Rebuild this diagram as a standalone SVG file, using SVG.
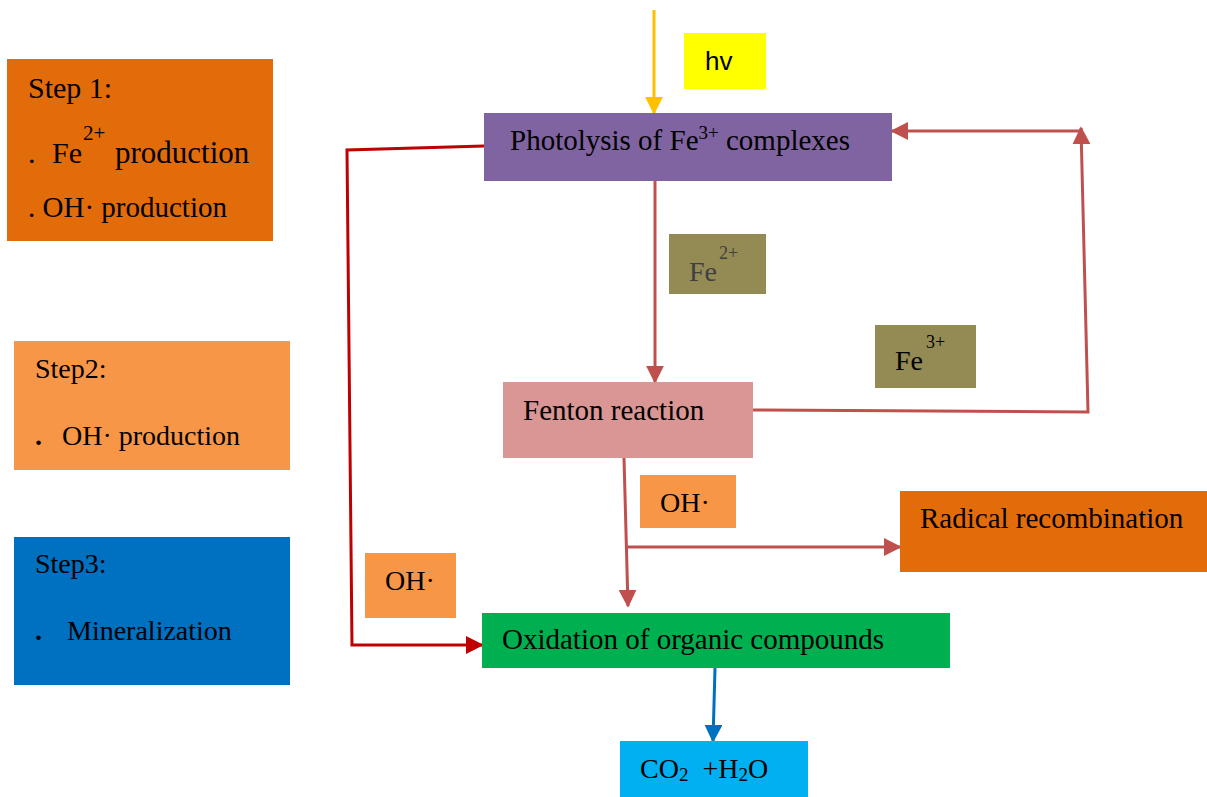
<svg xmlns="http://www.w3.org/2000/svg" width="1207" height="797" viewBox="0 0 1207 797">
<style>
text{font-family:"Liberation Serif","Times New Roman",serif;fill:#000;}
.t29{font-size:29px;}
.t28{font-size:28px;}
.b{font-weight:bold;}
.red{stroke:#C0504D;stroke-width:3;fill:none;}
.dred{stroke:#C00000;stroke-width:3;fill:none;}
</style>
<defs>
<marker id="ar" viewBox="0 0 10 10" refX="9" refY="5" markerWidth="6" markerHeight="6" orient="auto" markerUnits="strokeWidth"><path d="M0,0 L10,5 L0,10 z" fill="#C0504D"/></marker>
<marker id="ad" viewBox="0 0 10 10" refX="9" refY="5" markerWidth="6" markerHeight="6" orient="auto" markerUnits="strokeWidth"><path d="M0,0 L10,5 L0,10 z" fill="#C00000"/></marker>
<marker id="ay" viewBox="0 0 10 10" refX="9" refY="5" markerWidth="6" markerHeight="6" orient="auto" markerUnits="strokeWidth"><path d="M0,0 L10,5 L0,10 z" fill="#FFC000"/></marker>
<marker id="ab" viewBox="0 0 10 10" refX="9" refY="5" markerWidth="6" markerHeight="6" orient="auto" markerUnits="strokeWidth"><path d="M0,0 L10,5 L0,10 z" fill="#0070C0"/></marker>
</defs>
<rect width="1207" height="797" fill="#fff"/>

<g id="connectors">
<line x1="654" y1="10" x2="654" y2="113" stroke="#FFC000" stroke-width="3" marker-end="url(#ay)"/>
<line class="red" x1="655" y1="181" x2="655" y2="382" marker-end="url(#ar)"/>
<polyline class="red" points="753,410 1088,412 1081,128" marker-end="url(#ar)"/>
<line class="red" x1="1081" y1="131" x2="892" y2="131" marker-end="url(#ar)"/>
<line class="red" x1="624" y1="458" x2="628" y2="606" marker-end="url(#ar)"/>
<line class="red" x1="626" y1="547" x2="900" y2="547" marker-end="url(#ar)"/>
<polyline class="dred" points="484,146 347,150 352,645 482,645" marker-end="url(#ad)"/>
<line x1="715" y1="668" x2="713" y2="741" stroke="#0070C0" stroke-width="3" marker-end="url(#ab)"/>
</g>

<g id="step1">
<rect x="7" y="59" width="266" height="182" fill="#E36C0A"/>
<text x="28" y="98" style="font-size:30px">Step 1:</text>
<text x="28" y="163" style="font-size:30px">.<tspan x="52">Fe</tspan><tspan x="83" y="140" style="font-size:21px">2+</tspan><tspan x="115" y="163" style="font-size:31px">production</tspan></text>
<text class="t29" x="28" y="217">. OH· production</text>
</g>

<g id="step2">
<rect x="14" y="341" width="276" height="129" fill="#F79646"/>
<text class="t28" x="35" y="378">Step2:</text>
<text class="t28" x="35" y="445"><tspan class="b">.</tspan><tspan x="62">OH· production</tspan></text>
</g>

<g id="step3">
<rect x="14" y="537" width="276" height="148" fill="#0070C0"/>
<text class="t28" x="35" y="573">Step3:</text>
<text class="t28" x="35" y="640"><tspan class="b">.</tspan><tspan x="67">Mineralization</tspan></text>
</g>

<g id="hv">
<rect x="684" y="33" width="82" height="56" fill="#FFFF00"/>
<text x="705" y="70" style="font-family:'Liberation Sans',Arial,sans-serif;font-size:26px">hv</text>
</g>

<g id="photolysis">
<rect x="484" y="113" width="408" height="68" fill="#8064A2"/>
<text class="t29" x="510" y="150">Photolysis of Fe<tspan style="font-size:19px" dy="-11">3+</tspan><tspan dy="11"> complexes</tspan></text>
</g>

<g id="fe2">
<rect x="669" y="234" width="97" height="60" fill="#948A54"/>
<text x="689" y="281" style="font-size:28px;fill:#404040">Fe<tspan x="719" y="259" style="font-size:18px;fill:#404040">2+</tspan></text>
</g>

<g id="fe3">
<rect x="875" y="325" width="101" height="63" fill="#948A54"/>
<text x="895" y="370" style="font-size:28px">Fe<tspan x="926" y="348" style="font-size:18px">3+</tspan></text>
</g>

<g id="fenton">
<rect x="503" y="382" width="250" height="76" fill="#D99694"/>
<text class="t29" x="523" y="420">Fenton reaction</text>
</g>

<g id="oh-mid">
<rect x="640" y="475" width="96" height="53" fill="#F79646"/>
<text class="t28" x="660" y="512">OH·</text>
</g>

<g id="radical">
<rect x="900" y="491" width="307" height="81" fill="#E36C0A"/>
<text class="t29" x="920" y="528">Radical recombination</text>
</g>

<g id="oh-left">
<rect x="365" y="553" width="91" height="65" fill="#F79646"/>
<text class="t28" x="385" y="590">OH·</text>
</g>

<g id="oxidation">
<rect x="482" y="613" width="468" height="55" fill="#00B050"/>
<text class="t29" x="502" y="649">Oxidation of organic compounds</text>
</g>

<g id="products">
<rect x="620" y="741" width="188" height="56" fill="#00B0F0"/>
<text class="t28" x="640" y="778" xml:space="preserve">CO<tspan style="font-size:19px" dy="3">2</tspan><tspan dy="-3">  +H</tspan><tspan style="font-size:19px" dy="3">2</tspan><tspan dy="-3">O</tspan></text>
</g>
</svg>
